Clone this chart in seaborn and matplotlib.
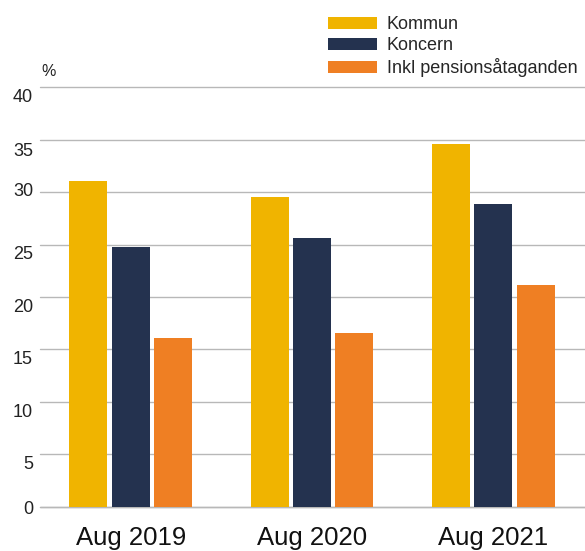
import matplotlib
matplotlib.use("Agg")
import matplotlib.pyplot as plt
import matplotlib.transforms as mtransforms
from matplotlib.patches import Patch
import seaborn as sns
import pandas as pd

categories = ["Aug 2019", "Aug 2020", "Aug 2021"]
series_names = ["Kommun", "Koncern", "Inkl pensionsåtaganden"]
kommun = [31.1, 29.5, 34.6]
koncern = [24.8, 25.6, 28.9]
inkl = [16.1, 16.6, 21.1]
yticks = [0, 5, 10, 15, 20, 25, 30, 35, 40]
colors = ["#F0B400", "#24324F", "#EF7F23"]

rows = []
for name, vals in zip(series_names, [kommun, koncern, inkl]):
    for c, v in zip(categories, vals):
        rows.append({"cat": c, "series": name, "value": v})
df = pd.DataFrame(rows)

sns.set_style("white")
plt.rcParams["font.family"] = ["Liberation Sans", "DejaVu Sans"]

fig = plt.figure(figsize=(5.85, 5.51), dpi=100)
ax = fig.add_axes([40 / 585, (551 - 506.7) / 551, 545 / 585, (506.7 - 87.3) / 551])

sns.barplot(data=df, x="cat", y="value", hue="series", order=categories,
            hue_order=series_names, palette=colors, width=0.7, gap=0.1,
            saturation=1, edgecolor="none", linewidth=0, legend=False, ax=ax)

ax.set_xlim(-0.5, 2.505)
ax.set_ylim(0, 40)
ax.set_yticks(yticks)
ax.set_yticklabels([str(t) for t in yticks])
ax.yaxis.grid(True, color="#b8b8b8", linewidth=1.0)
for gl in ax.yaxis.get_gridlines():
    gl.set_clip_on(False)
ax.axhline(0, color="#b0b0b0", linewidth=1.0, zorder=0.5, clip_on=False)
ax.set_axisbelow(True)
for s in ax.spines.values():
    s.set_visible(False)
ax.set_xlabel("")
ax.set_ylabel("")
ax.tick_params(axis="y", length=0, pad=5, labelsize=13, labelcolor="#222222")
ax.tick_params(axis="x", length=0, pad=14, labelsize=18.5, labelcolor="#111111")

# per-label vertical offsets (pixels, downward)
offsets = [1, 8.5, 8.5, 8.5, 8.5, 8, -3, 10, 8]
for lab, dy in zip(ax.get_yticklabels(), offsets):
    lab.set_transform(lab.get_transform() + mtransforms.ScaledTranslation(0, -dy / 100, fig.dpi_scale_trans))

fig.text(41 / 585, 1 - 72 / 551, "%", fontsize=11.5, va="center", ha="left", color="#222222")

handles = [Patch(facecolor=c, edgecolor="none") for c in colors]
fig.legend(handles, series_names, loc="upper left",
           bbox_to_anchor=(328 / 585, 1 - 16 / 551), frameon=False,
           fontsize=13, handlelength=2.7, handleheight=0.65,
           handletextpad=0.55, labelspacing=0.22, borderpad=0, borderaxespad=0)

fig.savefig("out.png", dpi=100)
